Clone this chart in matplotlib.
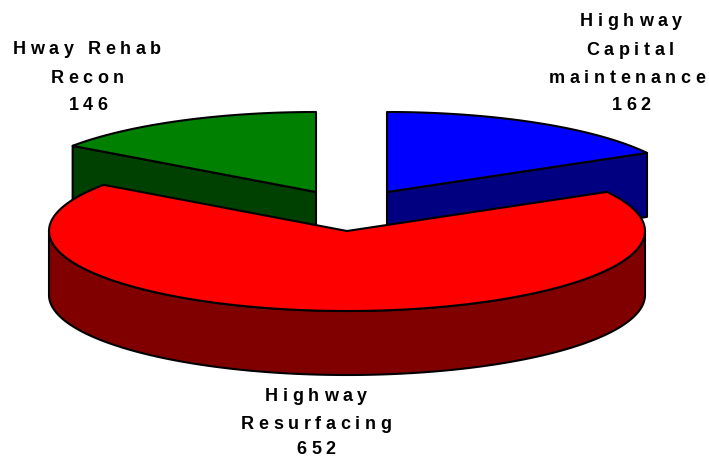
import numpy as np
import matplotlib
matplotlib.use("Agg")
import matplotlib.pyplot as plt
from matplotlib.font_manager import FontProperties, findfont, get_font
from matplotlib.ft2font import LoadFlags
from matplotlib.patches import Polygon
from matplotlib.text import Text
from matplotlib.transforms import Bbox, IdentityTransform

categories = ["Highway Capital maintenance", "Highway Resurfacing", "Hway Rehab Recon"]
values = [162, 652, 146]
label_lines = [
    ["Highway", "Capital", "maintenance", "162"],
    ["Highway", "Resurfacing", "652"],
    ["Hway Rehab", "Recon", "146"],
]
top_colors = ["#0000FF", "#FF0000", "#008000"]
side_colors = ["#000080", "#800000", "#004000"]

# layout (pixel-based canvas)
apexes = [(387, 192), (347, 231), (316, 192)]
RX, RY, DEPTH = 298, 80, 64
TRACK = 4.6
label_x = [[631, 630, 627, 631], [316, 316, 316], [87, 87, 88]]
label_y = [[26, 55, 83, 110], [401, 429, 454.5], [54, 83, 110]]


class TrackedText(Text):
    """Real text drawn with extra letter spacing."""

    def _advances(self):
        font = get_font(findfont(self.get_fontproperties()))
        font.set_size(self.get_fontsize(), self.get_figure(root=True).dpi)
        return [font.load_char(ord(c), flags=LoadFlags.NO_HINTING).linearHoriAdvance / 65536
                for c in self.get_text()]

    def _total(self):
        adv = self._advances()
        return sum(adv) + TRACK * (len(adv) - 1)

    def get_window_extent(self, renderer=None, dpi=None):
        b = super().get_window_extent(renderer, dpi)
        cx, t = (b.x0 + b.x1) / 2, self._total()
        return Bbox([[cx - t / 2, b.y0], [cx + t / 2, b.y1]])

    def draw(self, renderer):
        x, y = self.get_transform().transform(self.get_position())
        x -= self._total() / 2
        for c, a in zip(self.get_text(), self._advances()):
            g = Text(x, y, c, transform=IdentityTransform(), ha="left", va="baseline",
                     color=self.get_color(), fontproperties=self.get_fontproperties())
            g.set_figure(self.get_figure(root=True))
            g.draw(renderer)
            x += a + TRACK


fig = plt.figure(figsize=(7.09, 4.57), dpi=100)
ax = fig.add_axes([0, 0, 1, 1])
ax.set_xlim(0, 709)
ax.set_ylim(457, 0)
ax.axis("off")

fracs = np.array(values) / sum(values) * 2 * np.pi
ends = np.cumsum(fracs)
starts = ends - fracs
EC = dict(edgecolor="black", linewidth=1.5, joinstyle="round")


def rim(c, a0, a1, dy=0):
    t = np.linspace(a0, a1, 200)
    return np.column_stack([c[0] + RX * np.sin(t), c[1] - RY * np.cos(t) + dy])


def radial_side(c, a):
    p = rim(c, a, a)[0]
    return [c, p, (p[0], p[1] + DEPTH), (c[0], c[1] + DEPTH)]


# back slices first, exploded slice last
for i in (0, 2):
    c = apexes[i]
    edge = ends[i] if i == 0 else starts[i]
    ax.add_patch(Polygon(radial_side(c, edge), facecolor=side_colors[i], **EC))
    ax.add_patch(Polygon(np.vstack([[c], rim(c, starts[i], ends[i])]), facecolor=top_colors[i], **EC))

c = apexes[1]
front = rim(c, np.pi / 2, 3 * np.pi / 2)
ax.add_patch(Polygon(np.vstack([front, rim(c, 3 * np.pi / 2, np.pi / 2, DEPTH)]),
                     facecolor=side_colors[1], **EC))
ax.add_patch(Polygon(np.vstack([[c], rim(c, starts[1], ends[1])]), facecolor=top_colors[1], **EC))

prop = FontProperties(family="Liberation Sans", weight="bold", size=13)
for lines, xs, ys in zip(label_lines, label_x, label_y):
    for s, x, y in zip(lines, xs, ys):
        t = TrackedText(x, y, s, ha="center", va="baseline", color="black", fontproperties=prop)
        ax.add_artist(t)
        t.set_transform(ax.transData)

fig.savefig("out.png", dpi=100)
